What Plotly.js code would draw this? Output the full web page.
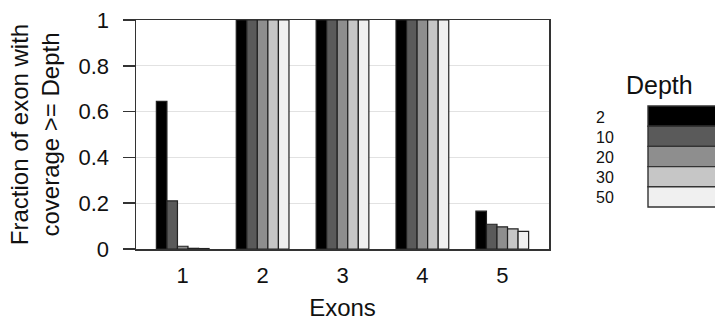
<!DOCTYPE html>
<html>
<head>
<meta charset="utf-8">
<script src="https://cdn.plot.ly/plotly-3.0.1.min.js"></script>
<style>html,body{margin:0;padding:0;background:#fff;}#chart{width:715px;height:326px;}</style>
</head>
<body>
<div id="chart"></div>
<script>
// ---- data ----
const exons = ["1", "2", "3", "4", "5"];
const depths = ["2", "10", "20", "30", "50"];
const depth2  = [0.645, 1, 1, 1, 0.165];
const depth10 = [0.21, 1, 1, 1, 0.108];
const depth20 = [0.012, 1, 1, 1, 0.097];
const depth30 = [0.003, 1, 1, 1, 0.088];
const depth50 = [0.002, 1, 1, 1, 0.077];
const depthColors = ["#000000", "#5a5a5a", "#8e8e8e", "#c6c6c6", "#f0f0f0"];
const yTicks = [0, 0.2, 0.4, 0.6, 0.8, 1];
const yTickText = ["0", "0.2", "0.4", "0.6", "0.8", "1"];

const series = [depth2, depth10, depth20, depth30, depth50];

// ---- layout geometry (pixels) ----
const W = 715, H = 326;
const M = {l: 136, r: 166, t: 20, b: 77};
const pw = W - M.l - M.r, ph = H - M.t - M.b;
const px = x => (x - M.l) / pw;
const py = y => (H - M.b - y) / ph;

const FONT = "Liberation Sans, Arial, sans-serif";

const traces = series.map((vals, i) => ({
  type: "bar",
  name: depths[i],
  x: exons,
  y: vals,
  marker: {color: depthColors[i], line: {color: "#222", width: 1.2}},
  showlegend: false,
  hoverinfo: "x+y+name"
}));

// legend drawn as stacked boxes with labels on the left
const shapes = [];
const annotations = [];
const boxTop = 106, boxH = 20.2, boxX0 = 648, boxX1 = 730;
depths.forEach((d, i) => {
  const y0 = boxTop + i * boxH, y1 = y0 + boxH;
  shapes.push({type: "rect", xref: "paper", yref: "paper",
    x0: px(boxX0), x1: px(boxX1), y0: py(y1), y1: py(y0),
    fillcolor: depthColors[i], line: {color: "#333", width: 1.4}});
  annotations.push({xref: "paper", yref: "paper", x: px(594), y: py((y0 + y1) / 2 + 1),
    xanchor: "left", yanchor: "middle", showarrow: false, text: d,
    font: {family: FONT, size: 16, color: "#111"}});
});
annotations.push({xref: "paper", yref: "paper", x: px(659), y: py(85),
  xanchor: "center", yanchor: "middle", showarrow: false, text: "Depth",
  font: {family: FONT, size: 25, color: "#111"}});

const layout = {
  width: W, height: H,
  margin: M,
  paper_bgcolor: "#fff", plot_bgcolor: "#fff",
  barmode: "group", bargap: 0.34, bargroupgap: 0,
  showlegend: false,
  font: {family: FONT, color: "#111"},
  xaxis: {
    type: "category",
    range: [-0.585, 4.585],
    showline: true, mirror: true, linecolor: "#333", linewidth: 1.5,
    ticks: "", showgrid: false, zeroline: false,
    tickfont: {family: FONT, size: 22, color: "#111"},
    ticklabelstandoff: 6,
    title: {text: "Exons", font: {family: FONT, size: 24, color: "#111"}, standoff: 12},
    automargin: false, fixedrange: true
  },
  yaxis: {
    range: [0, 1],
    tickvals: yTicks, ticktext: yTickText,
    ticks: "outside", ticklen: 12, tickcolor: "#333", tickwidth: 1.5,
    showline: true, mirror: true, linecolor: "#333", linewidth: 1.5,
    showgrid: true, gridcolor: "#e2e2e2", gridwidth: 1, zeroline: false,
    tickfont: {family: FONT, size: 22, color: "#111"},
    ticklabelstandoff: 9,
    title: {text: "Fraction of exon with<br>coverage >= Depth", font: {family: FONT, size: 24, color: "#111"}, standoff: 12},
    automargin: false, fixedrange: true
  },
  shapes: shapes,
  annotations: annotations
};

Plotly.newPlot("chart", traces, layout, {displayModeBar: false, staticPlot: true});
</script>
</body>
</html>
